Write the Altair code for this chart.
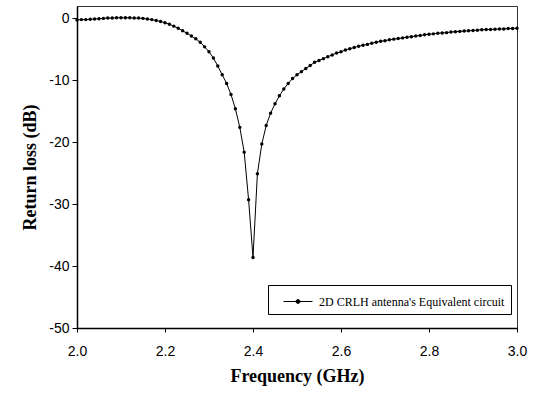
import altair as alt
import pandas as pd

# Frequency samples (GHz)
freq = [
    2.00, 2.01, 2.02, 2.03, 2.04, 2.05, 2.06, 2.07, 2.08, 2.09,
    2.10, 2.11, 2.12, 2.13, 2.14, 2.15, 2.16, 2.17, 2.18, 2.19,
    2.20, 2.21, 2.22, 2.23, 2.24, 2.25, 2.26, 2.27, 2.28, 2.29,
    2.30, 2.31, 2.32, 2.33, 2.34, 2.35, 2.36, 2.37, 2.38, 2.39,
    2.40, 2.41, 2.42, 2.43, 2.44, 2.45, 2.46, 2.47, 2.48, 2.49,
    2.50, 2.51, 2.52, 2.53, 2.54, 2.55, 2.56, 2.57, 2.58, 2.59,
    2.60, 2.61, 2.62, 2.63, 2.64, 2.65, 2.66, 2.67, 2.68, 2.69,
    2.70, 2.71, 2.72, 2.73, 2.74, 2.75, 2.76, 2.77, 2.78, 2.79,
    2.80, 2.81, 2.82, 2.83, 2.84, 2.85, 2.86, 2.87, 2.88, 2.89,
    2.90, 2.91, 2.92, 2.93, 2.94, 2.95, 2.96, 2.97, 2.98, 2.99,
    3.00,
]

# Return loss (dB)
return_loss = [
    -0.25, -0.20, -0.20, -0.15, -0.10, -0.05, 0.00, 0.05, 0.05, 0.10,
    0.10, 0.10, 0.10, 0.05, 0.05, 0.00, -0.10, -0.20, -0.35, -0.50,
    -0.70, -0.95, -1.25, -1.60, -2.00, -2.40, -2.85, -3.30, -3.85, -4.60,
    -5.40, -6.40, -7.70, -9.10, -10.50, -12.30, -14.60, -17.60, -21.60, -29.30,
    -38.60, -25.10, -20.30, -17.30, -15.30, -13.80, -12.50, -11.40, -10.50, -9.70,
    -9.10, -8.60, -8.10, -7.60, -7.10, -6.80, -6.50, -6.20, -5.90, -5.60,
    -5.40, -5.10, -4.90, -4.70, -4.50, -4.35, -4.20, -4.00, -3.85, -3.70,
    -3.60, -3.45, -3.35, -3.25, -3.15, -3.05, -2.95, -2.85, -2.75, -2.65,
    -2.55, -2.50, -2.40, -2.35, -2.30, -2.20, -2.15, -2.10, -2.05, -2.00,
    -1.95, -1.90, -1.85, -1.80, -1.80, -1.75, -1.72, -1.70, -1.65, -1.62,
    -1.60,
]

series_name = "2D CRLH antenna's Equivalent circuit"
x_ticks = [2.0, 2.2, 2.4, 2.6, 2.8, 3.0]
y_ticks = [0, -10, -20, -30, -40, -50]

df = pd.DataFrame({"freq": freq, "rl": return_loss, "series": [series_name] * len(freq)})

# line with a dot in its middle (legend glyph)
legend_symbol = (
    "M-0.1,0H2.8"
    "M1.15,0A0.2,0.2 0 1,0 1.55,0A0.2,0.2 0 1,0 1.15,0Z"
)

chart = (
    alt.Chart(df)
    .mark_line(
        color="black",
        strokeWidth=1,
        point=alt.OverlayMarkDef(filled=True, size=12, color="black", opacity=1),
    )
    .encode(
        x=alt.X(
            "freq:Q",
            scale=alt.Scale(domain=[2.0, 3.0], nice=False, zero=False),
            axis=alt.Axis(
                values=x_ticks,
                format=".1f",
                title="Frequency (GHz)",
                grid=False,
                tickSize=4,
                labelPadding=12,
                labelFlush=False,
                titlePadding=9,
            ),
        ),
        y=alt.Y(
            "rl:Q",
            scale=alt.Scale(domain=[-50, 2], nice=False, zero=False),
            axis=alt.Axis(
                values=y_ticks,
                labelExpr="'' + datum.value",
                title="Return loss (dB)",
                grid=False,
                tickSize=5,
                labelPadding=3,
                titlePadding=9,
            ),
        ),
        color=alt.Color(
            "series:N",
            scale=alt.Scale(range=["black"]),
            legend=alt.Legend(
                title=None,
                orient="none",
                legendX=191,
                legendY=279,
                direction="vertical",
                strokeColor="black",
                fillColor="white",
                padding=6,
                symbolType=legend_symbol,
                symbolSize=400,
                symbolStrokeWidth=1,
                symbolStrokeColor="black",
                symbolFillColor="black",
                labelFont="Liberation Serif",
                labelFontSize=12,
                labelColor="black",
                labelLimit=400,
                labelOffset=24,
            ),
        ),
    )
    .properties(
        width=440,
        height=322,
        padding={"left": 77, "top": 6, "right": 22, "bottom": 67},
        autosize=alt.AutoSizeParams(type="none"),
        background="white",
    )
    .configure_view(stroke="#333333", strokeWidth=1)
    .configure_axis(
        domainColor="black",
        domainWidth=1.5,
        tickColor="black",
        labelFont="Liberation Sans",
        labelFontSize=14,
        labelColor="black",
        titleFont="Liberation Serif",
        titleFontSize=18,
        titleFontWeight="bold",
        titleColor="black",
    )
)

chart.save("out.html", embed_options={"renderer": "svg", "actions": False})
